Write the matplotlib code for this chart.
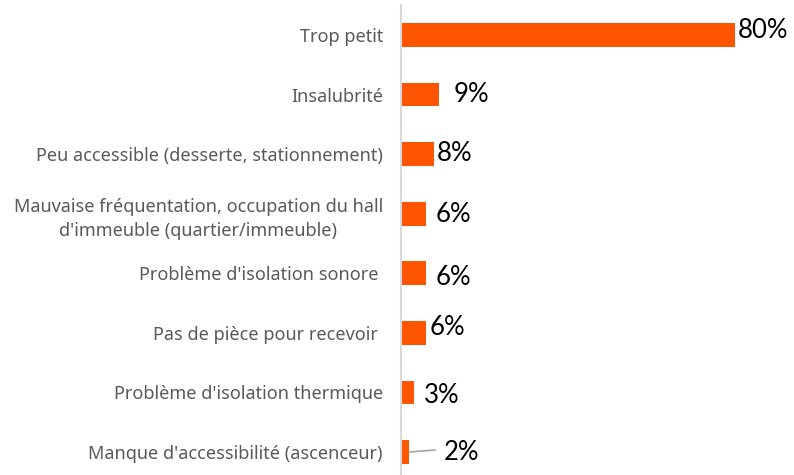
import matplotlib
matplotlib.use("Agg")
import matplotlib.pyplot as plt

categories = [
    "Trop petit",
    "Insalubrité",
    "Peu accessible (desserte, stationnement)",
    "Mauvaise fréquentation, occupation du hall\nd'immeuble (quartier/immeuble)",
    "Problème d'isolation sonore ",
    "Pas de pièce pour recevoir ",
    "Problème d'isolation thermique",
    "Manque d'accessibilité (ascenceur)",
]
values = [80, 9, 8, 6, 6, 6, 3, 2]
value_labels = ["80%", "9%", "8%", "6%", "6%", "6%", "3%", "2%"]

# label offsets (pixels) relative to bar end / bar centre
label_dx = [3, 15, 2, 10, 10, 4, 10, 34]
label_dy = [-4, 0, -1, 1, 4, -5, 3, 0]

W, H = 794, 475
fig = plt.figure(figsize=(W / 100, H / 100), dpi=100)
x0, x1 = 401, 794
ytop, ybot = 5, 475
ax = fig.add_axes([x0 / W, (H - ybot) / H, (x1 - x0) / W, (ybot - ytop) / H])

px_per_unit_x = (735 - 401) / 80.0
ax.set_xlim(0, (x1 - x0) / px_per_unit_x)
spacing = (452 - 35) / 7.0
ax.set_ylim(7 + (ybot - 452) / spacing, 0 - (35 - ytop) / spacing)

color = "#FF5500"
ypos = list(range(len(categories)))
ax.barh(ypos, values, height=0.40, color=color, zorder=2)

ax.set_yticks(ypos)
ax.set_yticklabels(categories, fontsize=13, color="#595959", family="Noto Sans",
                   multialignment="center", linespacing=1.45)
ax.tick_params(axis="y", length=0, pad=13)
ax.set_xticks([])
for s in ["top", "right", "bottom"]:
    ax.spines[s].set_visible(False)
ax.spines["left"].set_color("#D9D9D9")
ax.spines["left"].set_linewidth(1.5)

for i, (v, lab) in enumerate(zip(values, value_labels)):
    dx = label_dx[i] * 72 / 100
    dy = -label_dy[i] * 72 / 100
    ax.annotate(lab, xy=(v, i), xytext=(dx, dy), textcoords="offset points",
                ha="left", va="center", fontsize=18.5, family="Lato",
                color="black", annotation_clip=False)

# leader line for the last label
last = len(values) - 1
ax.annotate("", xy=(values[last], last), xytext=(26 * 72 / 100, 2 * 72 / 100),
            textcoords="offset points",
            arrowprops=dict(arrowstyle="-", color="#A6A6A6", lw=1.2,
                            shrinkA=0, shrinkB=0))

fig.savefig("out.png", dpi=100)
